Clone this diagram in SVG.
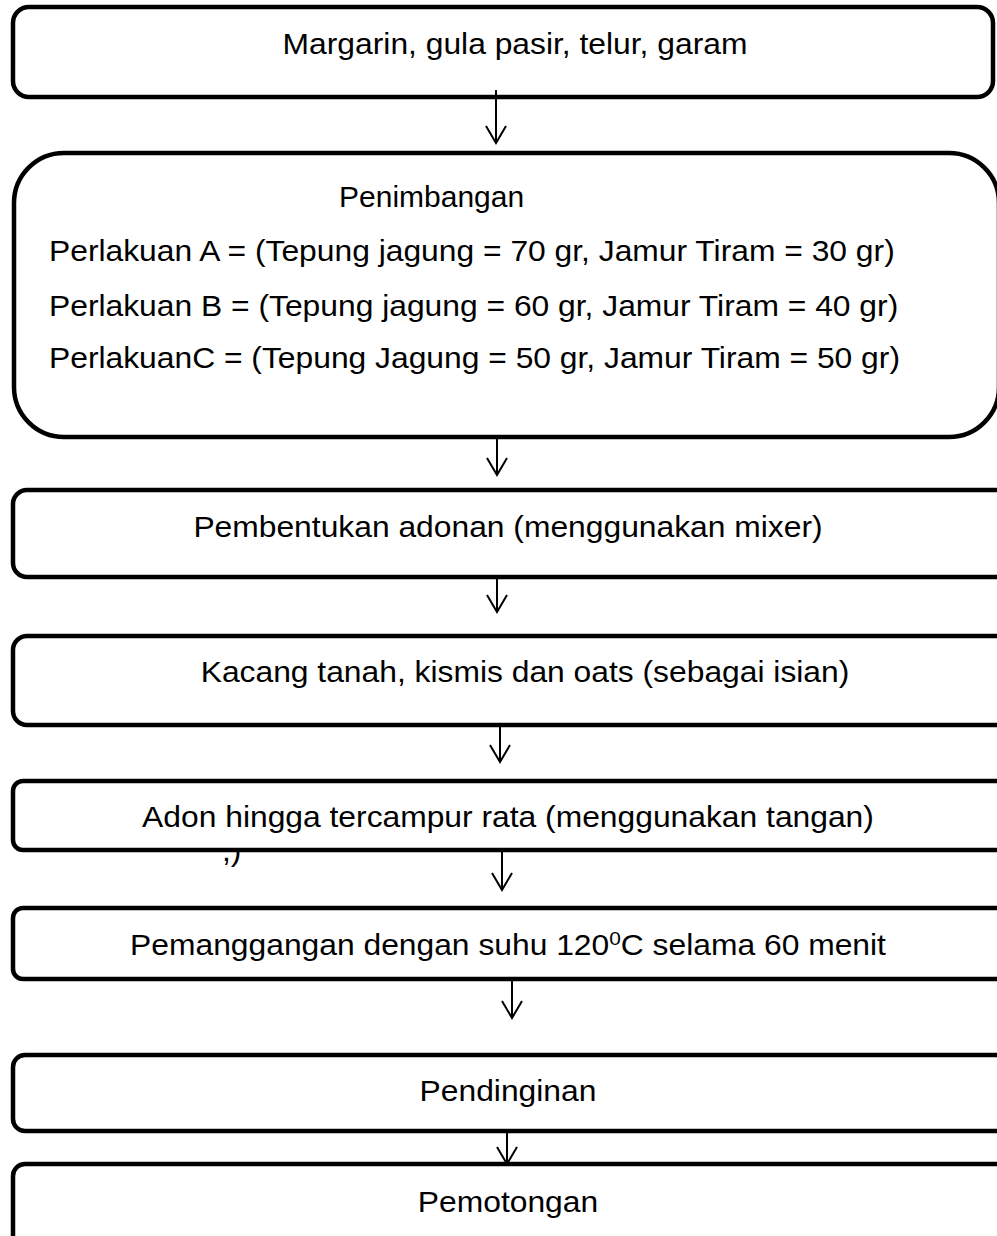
<svg xmlns="http://www.w3.org/2000/svg" width="997" height="1236" viewBox="0 0 997 1236">
<style>
.box{fill:#fff;stroke:#000;stroke-width:4.5}
.t{font-family:"Liberation Sans",Arial,sans-serif;font-size:29px;fill:#000}
.m{text-anchor:middle}
.c{stroke:#000;stroke-width:2;fill:none}
</style>
<defs>
<marker id="ah" markerWidth="20" markerHeight="22" refX="18" refY="10.5" orient="auto" markerUnits="userSpaceOnUse" viewBox="0 0 20 22">
<path d="M1,0.5 L18,10.5 L1,20.5" fill="none" stroke="#000" stroke-width="2"/>
</marker>
</defs>
<rect width="997" height="1236" fill="#fff"/>
<text class="t" transform="translate(222,861) scale(1.097,1)" font-size="26">,)</text>
<g id="n1"><rect class="box" x="13" y="7" width="980" height="90" rx="16"/><text class="t m" transform="translate(515,54) scale(1.097,1)">Margarin, gula pasir, telur, garam</text></g>
<g id="n2"><rect class="box" x="14" y="153" width="985" height="284" rx="50"/>
<text class="t" transform="translate(339,207) scale(1.035,1)" font-size="27">Penimbangan</text>
<text class="t" transform="translate(49,261) scale(1.097,1)">Perlakuan A = (Tepung jagung = 70 gr, Jamur Tiram = 30 gr)</text>
<text class="t" transform="translate(49,316) scale(1.097,1)">Perlakuan B = (Tepung jagung = 60 gr, Jamur Tiram = 40 gr)</text>
<text class="t" transform="translate(49,368) scale(1.097,1)">PerlakuanC = (Tepung Jagung = 50 gr, Jamur Tiram = 50 gr)</text></g>
<g id="n3"><rect class="box" x="13" y="490" width="1000" height="87" rx="14"/><text class="t m" transform="translate(508,537) scale(1.097,1)">Pembentukan adonan (menggunakan mixer)</text></g>
<g id="n4"><rect class="box" x="13" y="636" width="1000" height="89" rx="14"/><text class="t m" transform="translate(525,682) scale(1.097,1)">Kacang tanah, kismis dan oats (sebagai isian)</text></g>
<g id="n5"><rect class="box" x="13" y="781" width="1000" height="69" rx="10"/><text class="t m" transform="translate(508,827) scale(1.097,1)">Adon hingga tercampur rata (menggunakan tangan)</text></g>
<g id="n6"><rect class="box" x="13" y="908" width="1000" height="71" rx="10"/><text class="t m" transform="translate(508,955) scale(1.097,1)">Pemanggangan dengan suhu 120<tspan font-size="19" dy="-10">0</tspan><tspan dy="10">C selama 60 menit</tspan></text></g>
<g id="n7"><rect class="box" x="13" y="1055" width="1000" height="76" rx="12"/><text class="t m" transform="translate(508,1101) scale(1.097,1)">Pendinginan</text></g>
<g id="n8"><rect class="box" x="13" y="1164" width="1000" height="90" rx="12"/><text class="t m" transform="translate(508,1212) scale(1.097,1)">Pemotongan</text></g>
<g id="connectors">
<line class="c" x1="496" y1="90" x2="496" y2="143" marker-end="url(#ah)"/>
<line class="c" x1="497" y1="439" x2="497" y2="475" marker-end="url(#ah)"/>
<line class="c" x1="497" y1="579" x2="497" y2="612" marker-end="url(#ah)"/>
<line class="c" x1="500" y1="727" x2="500" y2="762" marker-end="url(#ah)"/>
<line class="c" x1="502" y1="852" x2="502" y2="890" marker-end="url(#ah)"/>
<line class="c" x1="512" y1="981" x2="512" y2="1018" marker-end="url(#ah)"/>
<line class="c" x1="507" y1="1133" x2="507" y2="1164" marker-end="url(#ah)"/>
</g>
</svg>
